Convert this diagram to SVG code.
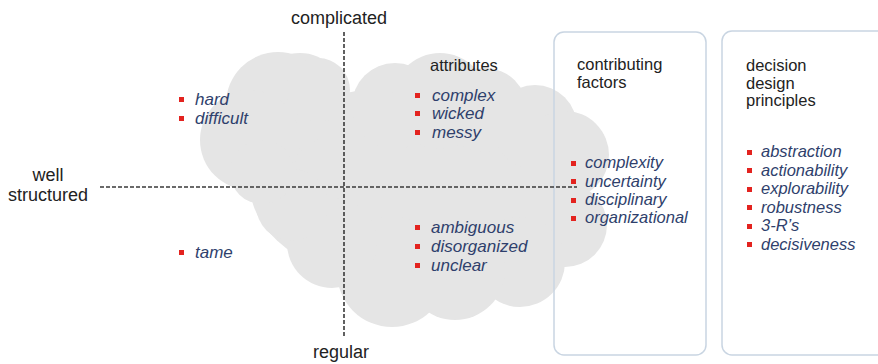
<svg xmlns="http://www.w3.org/2000/svg" width="878" height="364" viewBox="0 0 878 364">
  <style>
    .head { font-family: "Liberation Sans", Arial, sans-serif; font-size: 16.5px; fill: #222; }
    .axis { font-family: "Liberation Sans", Arial, sans-serif; font-size: 18px; fill: #222; }
    .item { font-family: "Liberation Sans", Arial, sans-serif; font-size: 17px; font-style: italic; fill: #2f3f6c; }
    .item2 { font-family: "Liberation Sans", Arial, sans-serif; font-size: 16.5px; font-style: italic; fill: #2f3f6c; }
    .bul { fill: #e3231f; }
    .cloud { fill: #e5e5e5; }
    .panel { fill: none; stroke: #c9d5e2; stroke-width: 1.5; }
    .dash { stroke: #3a3a3a; stroke-width: 1.6; stroke-dasharray: 4 2; fill: none; }
  </style>

  <!-- cloud made of overlapping lobes -->
  <g id="cloud" class="cloud">
    <ellipse cx="410" cy="185" rx="160" ry="100"/>
    <circle cx="278" cy="104" r="52"/>
    <circle cx="300" cy="98" r="45"/>
    <circle cx="250" cy="140" r="50"/>
    <circle cx="318" cy="90" r="32"/>
    <circle cx="395" cy="106" r="43"/>
    <circle cx="440" cy="101" r="48"/>
    <circle cx="485" cy="110" r="42"/>
    <circle cx="535" cy="127" r="42"/>
    <circle cx="565" cy="155" r="44"/>
    <circle cx="565" cy="225" r="42"/>
    <circle cx="520" cy="262" r="45"/>
    <circle cx="455" cy="270" r="50"/>
    <circle cx="392" cy="272" r="55"/>
    <circle cx="332" cy="243" r="45"/>
    <circle cx="292" cy="205" r="36"/>
    <circle cx="262" cy="172" r="32"/>
  </g>

  <!-- panels -->
  <g id="panel-factors">
    <rect class="panel" x="554" y="32" width="152" height="323" rx="10"/>
  </g>
  <g id="panel-principles">
    <rect class="panel" x="722" y="31" width="170" height="324" rx="10"/>
  </g>

  <!-- axes -->
  <g id="axes">
    <line class="dash" x1="100" y1="187" x2="577" y2="187"/>
    <line class="dash" x1="344" y1="32" x2="344" y2="336"/>
  </g>

  <g id="axis-labels">
    <text class="axis" x="339" y="24" text-anchor="middle">complicated</text>
    <text class="axis" x="341" y="358" text-anchor="middle">regular</text>
    <text class="axis" x="48" y="181" text-anchor="middle">well</text>
    <text class="axis" x="48" y="201" text-anchor="middle">structured</text>
  </g>

  <!-- upper-left quadrant -->
  <g id="q-upper-left">
    <rect class="bul" x="179" y="97" width="5" height="5"/>
    <text class="item" x="195" y="105">hard</text>
    <rect class="bul" x="179" y="116" width="5" height="5"/>
    <text class="item" x="195" y="124">difficult</text>
  </g>

  <!-- lower-left quadrant -->
  <g id="q-lower-left">
    <rect class="bul" x="179" y="250" width="5" height="5"/>
    <text class="item" x="195" y="258">tame</text>
  </g>

  <!-- upper-right quadrant -->
  <g id="q-upper-right">
    <text class="head" x="430" y="71">attributes</text>
    <rect class="bul" x="415" y="93" width="5" height="5"/>
    <text class="item" x="432" y="101">complex</text>
    <rect class="bul" x="415" y="111" width="5" height="5"/>
    <text class="item" x="432" y="119">wicked</text>
    <rect class="bul" x="415" y="130" width="5" height="5"/>
    <text class="item" x="432" y="138">messy</text>
  </g>

  <!-- lower-right quadrant -->
  <g id="q-lower-right">
    <rect class="bul" x="415" y="225" width="5" height="5"/>
    <text class="item" x="431" y="233">ambiguous</text>
    <rect class="bul" x="415" y="244" width="5" height="5"/>
    <text class="item" x="431" y="252">disorganized</text>
    <rect class="bul" x="415" y="263" width="5" height="5"/>
    <text class="item" x="431" y="271">unclear</text>
  </g>

  <!-- contributing factors -->
  <g id="factors">
    <text class="head" x="577" y="70">contributing</text>
    <text class="head" x="577" y="88">factors</text>
    <rect class="bul" x="571" y="161" width="5" height="5"/>
    <text class="item2" x="585" y="168">complexity</text>
    <rect class="bul" x="571" y="179" width="5" height="5"/>
    <text class="item2" x="585" y="187">uncertainty</text>
    <rect class="bul" x="571" y="198" width="5" height="5"/>
    <text class="item2" x="585" y="205">disciplinary</text>
    <rect class="bul" x="571" y="216" width="5" height="5"/>
    <text class="item2" x="585" y="223">organizational</text>
  </g>

  <!-- decision design principles -->
  <g id="principles">
    <text class="head" x="746" y="71">decision</text>
    <text class="head" x="746" y="88.5">design</text>
    <text class="head" x="746" y="106">principles</text>
    <rect class="bul" x="747" y="150" width="5" height="5"/>
    <text class="item2" x="761" y="157">abstraction</text>
    <rect class="bul" x="747" y="168" width="5" height="5"/>
    <text class="item2" x="761" y="175.5">actionability</text>
    <rect class="bul" x="747" y="187" width="5" height="5"/>
    <text class="item2" x="761" y="194">explorability</text>
    <rect class="bul" x="747" y="205" width="5" height="5"/>
    <text class="item2" x="761" y="212.5">robustness</text>
    <rect class="bul" x="747" y="224" width="5" height="5"/>
    <text class="item2" x="761" y="231">3-R’s</text>
    <rect class="bul" x="747" y="242" width="5" height="5"/>
    <text class="item2" x="761" y="249.5">decisiveness</text>
  </g>
</svg>
